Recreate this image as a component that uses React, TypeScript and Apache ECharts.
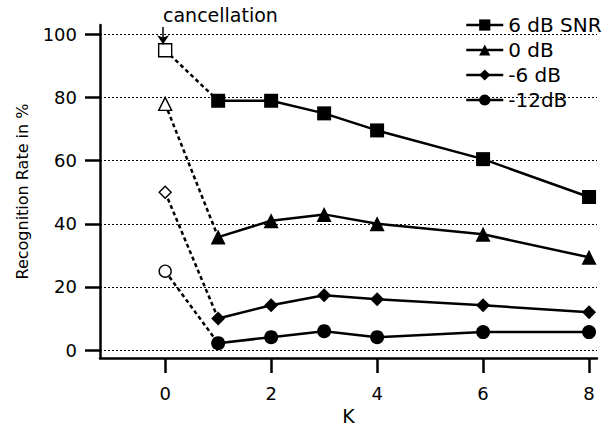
import React, { useEffect, useRef } from "react";
import * as echarts from "echarts";

const K_MAIN = [1, 2, 3, 4, 6, 8];
const SERIES_NAMES = ["6 dB SNR", "0 dB", "-6 dB", "-12dB"];
const SNR6 = [79, 79, 75, 69.6, 60.5, 48.5];
const DB0 = [35.8, 41, 43, 40, 36.7, 29.4];
const DBM6 = [10, 14.2, 17.4, 16.1, 14.2, 12];
const DBM12 = [2.2, 4.1, 6, 4.1, 5.7, 5.7];
const CANCEL = [95, 78, 50, 25];
const X_TICKS = [0, 2, 4, 6, 8];
const Y_TICKS = [0, 20, 40, 60, 80, 100];
const SYMBOLS = ["rect", "triangle", "diamond", "circle"];
const FILLED_SIZE = [14, 15, 14, 14];
const HOLLOW_SIZE = [13, 13, 12, 12];

const FONT = "DejaVu Sans, Liberation Sans, Arial, sans-serif";

export default function App() {
  const ref = useRef<HTMLDivElement>(null);
  useEffect(() => {
    document.body.style.margin = "0";
    const chart = echarts.init(ref.current!, null, { renderer: "svg" });
    const values = [SNR6, DB0, DBM6, DBM12];
    const series: any[] = [];
    values.forEach((vals, i) => {
      const dashed: any = {
        type: "line",
        name: SERIES_NAMES[i] + " cancellation",
        data: [
          {
            value: [0, CANCEL[i]],
            symbol: SYMBOLS[i],
            symbolSize: HOLLOW_SIZE[i],
            itemStyle: { color: "#fff", borderColor: "#000", borderWidth: 1.4 },
          },
          { value: [1, vals[0]], symbol: "none" },
        ],
        lineStyle: { color: "#000", width: 2.5, type: [4, 3] },
        itemStyle: { color: "#000" },
        z: 2,
        silent: true,
      };
      if (i === 0) {
        dashed.markLine = {
          silent: true,
          symbol: ["none", "arrow"],
          symbolSize: 9,
          label: { show: false },
          lineStyle: { color: "#000", width: 1.5, type: "solid" },
          data: [[{ coord: [-0.04, 102.4] }, { coord: [-0.04, 96.9] }]],
        };
      }
      if (i === 1) {
        dashed.markLine = {
          silent: true,
          symbol: ["none", "none"],
          label: { show: false },
          lineStyle: { color: "#000", width: 1, type: [2, 2] },
          data: Y_TICKS.map((y) => ({ yAxis: y })),
          z: 1,
        };
      }
      series.push(dashed);
      series.push({
        type: "line",
        name: SERIES_NAMES[i],
        data: K_MAIN.map((k, j) => [k, vals[j]]),
        symbol: SYMBOLS[i],
        symbolSize: FILLED_SIZE[i],
        showAllSymbol: true,
        lineStyle: { color: "#000", width: 2.5 },
        itemStyle: { color: "#000" },
        z: 3,
      });
    });

    chart.setOption({
      animation: false,
      backgroundColor: "#fff",
      textStyle: { fontFamily: FONT },
      grid: { left: 100, right: 15, top: 25, bottom: 74 },
      legend: {
        data: SERIES_NAMES,
        orient: "vertical",
        left: 465,
        top: 15,
        padding: 0,
        itemWidth: 37,
        itemHeight: 14,
        itemGap: 5,
        lineStyle: { width: 2.5, color: "#000" },
        textStyle: { fontSize: 20, color: "#000", fontFamily: FONT },
        inactiveColor: "#000",
      },
      graphic: [
        {
          type: "text",
          left: 163,
          top: 5,
          style: { text: "cancellation", font: "19px " + FONT, fill: "#000" },
        },
      ],
      xAxis: {
        type: "value",
        min: -1.23,
        max: 8.15,
        name: "K",
        nameLocation: "middle",
        nameGap: 48,
        nameTextStyle: { fontSize: 19, color: "#000" },
        axisLine: { show: true, onZero: false, lineStyle: { color: "#000", width: 2.5 } },
        axisTick: { show: true, customValues: X_TICKS, length: 15, lineStyle: { color: "#000", width: 2.5 } },
        axisLabel: { customValues: X_TICKS, fontSize: 18, color: "#000", margin: 26 },
        splitLine: { show: false },
      },
      yAxis: {
        type: "value",
        min: -2.5,
        max: 103,
        name: "Recognition Rate in %",
        nameLocation: "middle",
        nameGap: 70,
        nameTextStyle: { fontSize: 16, color: "#000" },
        axisLine: { show: true, onZero: false, lineStyle: { color: "#000", width: 2.5 } },
        axisTick: { show: true, customValues: Y_TICKS, length: 15, lineStyle: { color: "#000", width: 2.5 } },
        axisLabel: { customValues: Y_TICKS, fontSize: 18, color: "#000", margin: 23 },
        splitLine: { show: false },
      },
      series,
    });
    return () => chart.dispose();
  }, []);
  return <div ref={ref} style={{ width: 612, height: 432 }} />;
}
